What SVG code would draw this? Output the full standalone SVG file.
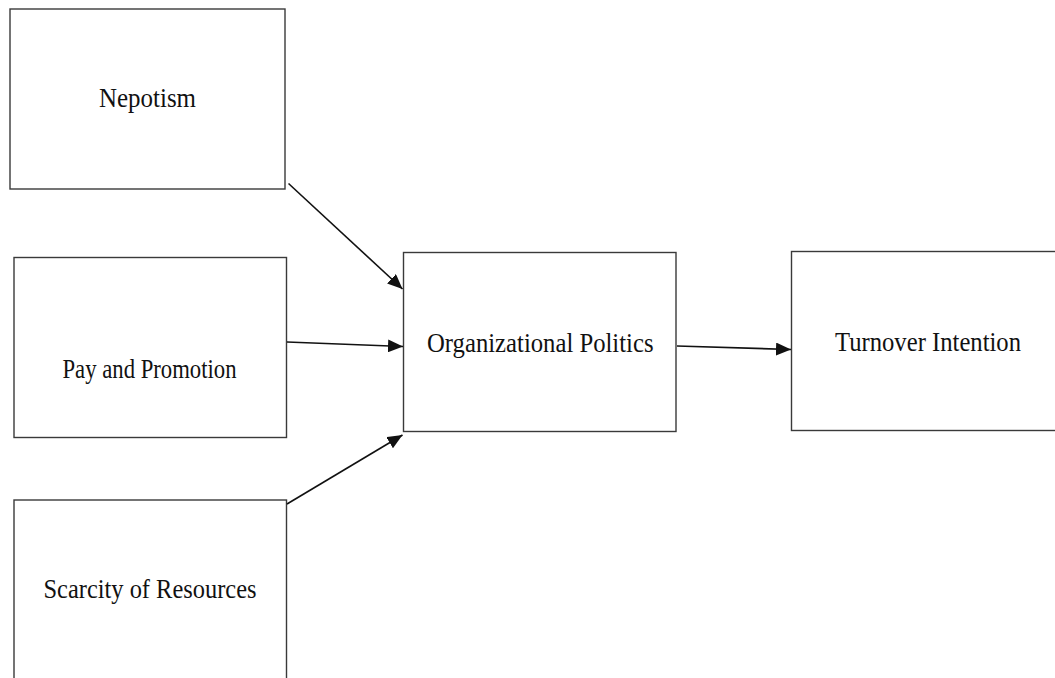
<svg xmlns="http://www.w3.org/2000/svg" width="1055" height="678" viewBox="0 0 1055 678">
  <style>
    .box { fill: #ffffff; stroke: #3a3a3a; stroke-width: 1.4; }
    .label { font-family: "Liberation Serif", "Times New Roman", serif; font-size: 28px; fill: #111111; text-anchor: start; }
    .edge { stroke: #111111; stroke-width: 1.6; fill: none; marker-end: url(#head); }
  </style>
  <defs>
    <marker id="head" markerUnits="userSpaceOnUse" markerWidth="16" markerHeight="13" refX="15" refY="6.5" orient="auto">
      <path d="M0,0 L15,6.5 L0,13 Z" fill="#111111"/>
    </marker>
  </defs>
  <rect width="1055" height="678" fill="#ffffff"/>

  <g id="node-nepotism">
    <rect class="box" x="10" y="9" width="275" height="180"/>
    <text class="label" x="99" y="107" textLength="97" lengthAdjust="spacingAndGlyphs">Nepotism</text>
  </g>

  <g id="node-pay-promotion">
    <rect class="box" x="14" y="257.5" width="272.5" height="180"/>
    <text class="label" x="62.5" y="378" textLength="174" lengthAdjust="spacingAndGlyphs">Pay and Promotion</text>
  </g>

  <g id="node-scarcity">
    <rect class="box" x="14" y="500" width="272.5" height="200"/>
    <text class="label" x="43.5" y="598" textLength="213" lengthAdjust="spacingAndGlyphs">Scarcity of Resources</text>
  </g>

  <g id="node-org-politics">
    <rect class="box" x="403.5" y="252.5" width="272.5" height="179"/>
    <text class="label" x="427" y="352" textLength="226.5" lengthAdjust="spacingAndGlyphs">Organizational Politics</text>
  </g>

  <g id="node-turnover">
    <rect class="box" x="791.5" y="251.5" width="280" height="179"/>
    <text class="label" x="835" y="350.5" textLength="186" lengthAdjust="spacingAndGlyphs">Turnover Intention</text>
  </g>

  <g id="connectors">
    <line class="edge" x1="288.5" y1="183.5" x2="402.5" y2="289"/>
    <line class="edge" x1="287" y1="342" x2="403" y2="346.5"/>
    <line class="edge" x1="287" y1="504" x2="402.5" y2="435"/>
    <line class="edge" x1="677" y1="346" x2="791" y2="349.5"/>
  </g>
</svg>
